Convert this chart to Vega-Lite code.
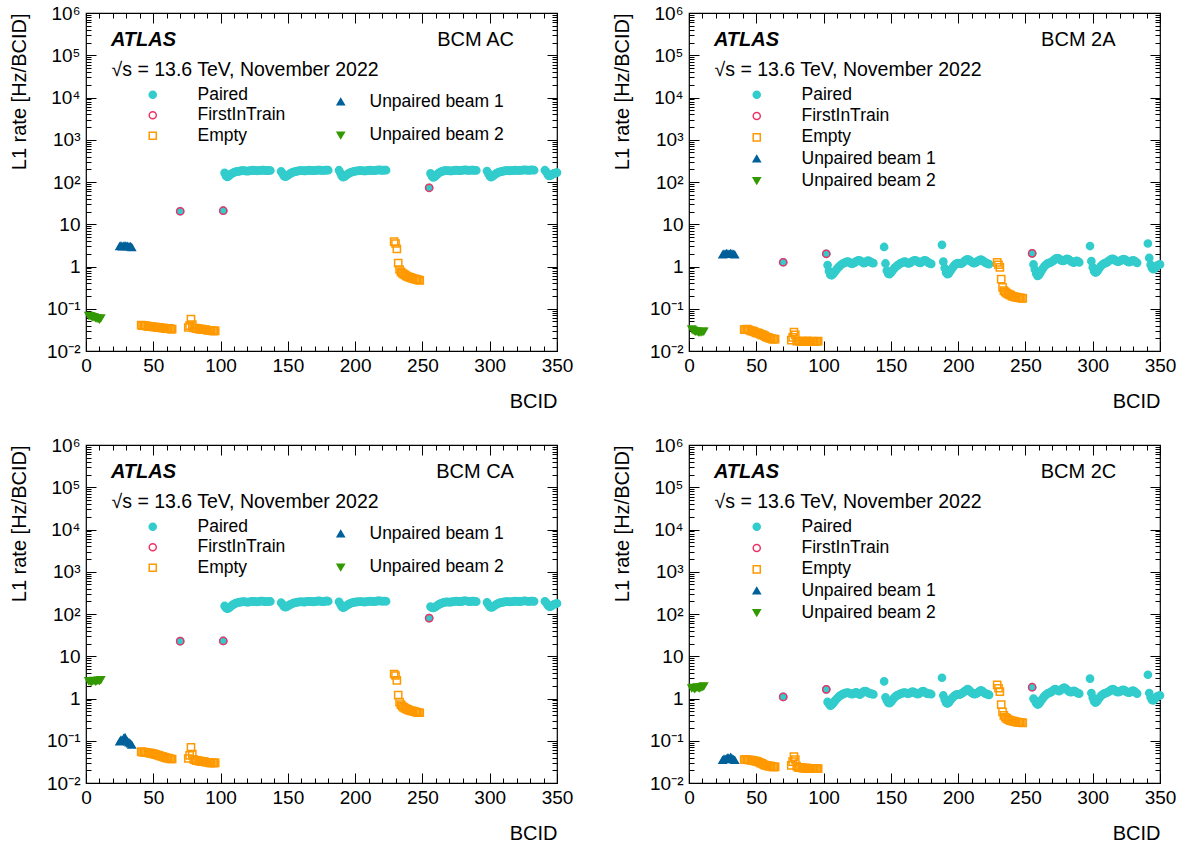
{
"$schema": "https://vega.github.io/schema/vega-lite/v6.json",
"background": "white",
"padding": {"left": 8, "top": 3, "right": 5, "bottom": 5},
"autosize": {"type": "pad"},
"columns": 2,
"spacing": {"row": 94, "column": 132},
"bounds": "flush",
"resolve": {"scale": {"stroke": "independent", "fill": "independent", "shape": "independent"}},
"config": {
  "font": "Liberation Sans",
  "view": {"stroke": "black", "strokeWidth": 1.2},
  "axis": {"domain": false, "grid": false, "tickColor": "black", "tickWidth": 1, "labelColor": "black", "labelFont": "Liberation Sans", "labelFontSize": 19, "titleFont": "Liberation Sans", "titleFontSize": 20, "titleFontWeight": "normal", "titleColor": "black", "labelFlush": false, "labelOverlap": false},
  "legend": {"labelFont": "Liberation Sans", "labelFontSize": 17.5, "labelColor": "black", "symbolStrokeWidth": 1.5, "symbolSize": 50, "padding": 0},
  "text": {"font": "Liberation Sans", "color": "black"}
},
"datasets": {
"ac": [
{"b":70,"t":"P","r":20.3},{"b":102,"t":"P","r":20.9},
{"b":103,"t":"P","r":165},{"b":104,"t":"P","r":140},{"b":105,"t":"P","r":132},{"b":106,"t":"P","r":138},{"b":107,"t":"P","r":148},{"b":108,"t":"P","r":156},{"b":109,"t":"P","r":163},{"b":110,"t":"P","r":168},{"b":111,"t":"P","r":173},{"b":112,"t":"P","r":176},{"b":113,"t":"P","r":179},{"b":114,"t":"P","r":181},{"b":115,"t":"P","r":183},{"b":116,"t":"P","r":185},{"b":117,"t":"P","r":186},{"b":118,"t":"P","r":184},{"b":119,"t":"P","r":182},{"b":120,"t":"P","r":180},{"b":121,"t":"P","r":182},{"b":122,"t":"P","r":185},{"b":123,"t":"P","r":188},{"b":124,"t":"P","r":190},{"b":125,"t":"P","r":188},{"b":126,"t":"P","r":186},{"b":127,"t":"P","r":184},{"b":128,"t":"P","r":185},{"b":129,"t":"P","r":187},{"b":130,"t":"P","r":189},{"b":131,"t":"P","r":191},{"b":132,"t":"P","r":190},{"b":133,"t":"P","r":188},{"b":134,"t":"P","r":186},{"b":135,"t":"P","r":187},{"b":136,"t":"P","r":189},{"b":137,"t":"P","r":187},
{"b":145,"t":"P","r":178},{"b":146,"t":"P","r":160},{"b":147,"t":"P","r":140},{"b":148,"t":"P","r":133},{"b":149,"t":"P","r":137},{"b":150,"t":"P","r":145},{"b":151,"t":"P","r":152},{"b":152,"t":"P","r":160},{"b":153,"t":"P","r":166},{"b":154,"t":"P","r":171},{"b":155,"t":"P","r":175},{"b":156,"t":"P","r":178},{"b":157,"t":"P","r":181},{"b":158,"t":"P","r":183},{"b":159,"t":"P","r":185},{"b":160,"t":"P","r":186},{"b":161,"t":"P","r":185},{"b":162,"t":"P","r":183},{"b":163,"t":"P","r":184},{"b":164,"t":"P","r":186},{"b":165,"t":"P","r":188},{"b":166,"t":"P","r":190},{"b":167,"t":"P","r":189},{"b":168,"t":"P","r":187},{"b":169,"t":"P","r":185},{"b":170,"t":"P","r":186},{"b":171,"t":"P","r":188},{"b":172,"t":"P","r":190},{"b":173,"t":"P","r":192},{"b":174,"t":"P","r":191},{"b":175,"t":"P","r":189},{"b":176,"t":"P","r":187},{"b":177,"t":"P","r":188},{"b":178,"t":"P","r":190},{"b":179,"t":"P","r":192},{"b":180,"t":"P","r":190},
{"b":188,"t":"P","r":190},{"b":189,"t":"P","r":165},{"b":190,"t":"P","r":140},{"b":191,"t":"P","r":130},{"b":192,"t":"P","r":134},{"b":193,"t":"P","r":142},{"b":194,"t":"P","r":150},{"b":195,"t":"P","r":158},{"b":196,"t":"P","r":165},{"b":197,"t":"P","r":170},{"b":198,"t":"P","r":174},{"b":199,"t":"P","r":177},{"b":200,"t":"P","r":180},{"b":201,"t":"P","r":182},{"b":202,"t":"P","r":184},{"b":203,"t":"P","r":185},{"b":204,"t":"P","r":186},{"b":205,"t":"P","r":185},{"b":206,"t":"P","r":183},{"b":207,"t":"P","r":182},{"b":208,"t":"P","r":184},{"b":209,"t":"P","r":186},{"b":210,"t":"P","r":188},{"b":211,"t":"P","r":190},{"b":212,"t":"P","r":189},{"b":213,"t":"P","r":187},{"b":214,"t":"P","r":186},{"b":215,"t":"P","r":188},{"b":216,"t":"P","r":190},{"b":217,"t":"P","r":192},{"b":218,"t":"P","r":193},{"b":219,"t":"P","r":191},{"b":220,"t":"P","r":189},{"b":221,"t":"P","r":190},{"b":222,"t":"P","r":192},{"b":223,"t":"P","r":190},
{"b":255,"t":"P","r":73},
{"b":256,"t":"P","r":160},{"b":257,"t":"P","r":138},{"b":258,"t":"P","r":128},{"b":259,"t":"P","r":132},{"b":260,"t":"P","r":142},{"b":261,"t":"P","r":152},{"b":262,"t":"P","r":162},{"b":263,"t":"P","r":170},{"b":264,"t":"P","r":176},{"b":265,"t":"P","r":180},{"b":266,"t":"P","r":183},{"b":267,"t":"P","r":185},{"b":268,"t":"P","r":186},{"b":269,"t":"P","r":185},{"b":270,"t":"P","r":183},{"b":271,"t":"P","r":182},{"b":272,"t":"P","r":184},{"b":273,"t":"P","r":187},{"b":274,"t":"P","r":189},{"b":275,"t":"P","r":190},{"b":276,"t":"P","r":189},{"b":277,"t":"P","r":187},{"b":278,"t":"P","r":186},{"b":279,"t":"P","r":188},{"b":280,"t":"P","r":190},{"b":281,"t":"P","r":192},{"b":282,"t":"P","r":193},{"b":283,"t":"P","r":191},{"b":284,"t":"P","r":189},{"b":285,"t":"P","r":188},{"b":286,"t":"P","r":190},{"b":287,"t":"P","r":192},{"b":288,"t":"P","r":191},{"b":289,"t":"P","r":189},{"b":290,"t":"P","r":188},
{"b":298,"t":"P","r":182},{"b":299,"t":"P","r":160},{"b":300,"t":"P","r":138},{"b":301,"t":"P","r":130},{"b":302,"t":"P","r":135},{"b":303,"t":"P","r":143},{"b":304,"t":"P","r":152},{"b":305,"t":"P","r":160},{"b":306,"t":"P","r":166},{"b":307,"t":"P","r":171},{"b":308,"t":"P","r":175},{"b":309,"t":"P","r":178},{"b":310,"t":"P","r":181},{"b":311,"t":"P","r":183},{"b":312,"t":"P","r":185},{"b":313,"t":"P","r":186},{"b":314,"t":"P","r":185},{"b":315,"t":"P","r":184},{"b":316,"t":"P","r":185},{"b":317,"t":"P","r":187},{"b":318,"t":"P","r":189},{"b":319,"t":"P","r":190},{"b":320,"t":"P","r":189},{"b":321,"t":"P","r":188},{"b":322,"t":"P","r":187},{"b":323,"t":"P","r":188},{"b":324,"t":"P","r":190},{"b":325,"t":"P","r":192},{"b":326,"t":"P","r":193},{"b":327,"t":"P","r":192},{"b":328,"t":"P","r":190},{"b":329,"t":"P","r":189},{"b":330,"t":"P","r":191},{"b":331,"t":"P","r":193},{"b":332,"t":"P","r":192},{"b":333,"t":"P","r":190},
{"b":341,"t":"P","r":190},{"b":342,"t":"P","r":175},{"b":343,"t":"P","r":152},{"b":344,"t":"P","r":140},{"b":345,"t":"P","r":142},{"b":346,"t":"P","r":148},{"b":347,"t":"P","r":155},{"b":348,"t":"P","r":160},{"b":349,"t":"P","r":164},{"b":350,"t":"P","r":167},
{"b":70,"t":"F","r":20.3},{"b":102,"t":"F","r":20.9},{"b":255,"t":"F","r":73},
{"b":41,"t":"E","r":0.041},{"b":42,"t":"E","r":0.04},{"b":43,"t":"E","r":0.04},{"b":44,"t":"E","r":0.04},{"b":45,"t":"E","r":0.039},{"b":46,"t":"E","r":0.039},{"b":47,"t":"E","r":0.038},{"b":48,"t":"E","r":0.038},{"b":49,"t":"E","r":0.038},{"b":50,"t":"E","r":0.037},{"b":51,"t":"E","r":0.037},{"b":52,"t":"E","r":0.037},{"b":53,"t":"E","r":0.036},{"b":54,"t":"E","r":0.036},{"b":55,"t":"E","r":0.036},{"b":56,"t":"E","r":0.035},{"b":57,"t":"E","r":0.035},{"b":58,"t":"E","r":0.035},{"b":59,"t":"E","r":0.034},{"b":60,"t":"E","r":0.034},{"b":61,"t":"E","r":0.034},{"b":62,"t":"E","r":0.034},{"b":63,"t":"E","r":0.033},{"b":64,"t":"E","r":0.033},
{"b":76,"t":"E","r":0.036},{"b":77,"t":"E","r":0.04},{"b":78,"t":"E","r":0.057},{"b":79,"t":"E","r":0.042},{"b":80,"t":"E","r":0.035},{"b":81,"t":"E","r":0.035},{"b":82,"t":"E","r":0.034},{"b":83,"t":"E","r":0.034},{"b":84,"t":"E","r":0.033},{"b":85,"t":"E","r":0.033},{"b":86,"t":"E","r":0.033},{"b":87,"t":"E","r":0.032},{"b":88,"t":"E","r":0.032},{"b":89,"t":"E","r":0.032},{"b":90,"t":"E","r":0.031},{"b":91,"t":"E","r":0.031},{"b":92,"t":"E","r":0.031},{"b":93,"t":"E","r":0.031},{"b":94,"t":"E","r":0.03},{"b":95,"t":"E","r":0.03},{"b":96,"t":"E","r":0.03},
{"b":229,"t":"E","r":3.9},{"b":230,"t":"E","r":3.5},{"b":231,"t":"E","r":2.6},{"b":232,"t":"E","r":1.2},{"b":233,"t":"E","r":0.85},{"b":234,"t":"E","r":0.75},{"b":235,"t":"E","r":0.7},{"b":236,"t":"E","r":0.66},{"b":237,"t":"E","r":0.63},{"b":238,"t":"E","r":0.6},{"b":239,"t":"E","r":0.58},{"b":240,"t":"E","r":0.56},{"b":241,"t":"E","r":0.55},{"b":242,"t":"E","r":0.53},{"b":243,"t":"E","r":0.52},{"b":244,"t":"E","r":0.51},{"b":245,"t":"E","r":0.5},{"b":246,"t":"E","r":0.49},{"b":247,"t":"E","r":0.48},{"b":248,"t":"E","r":0.47},
{"b":25,"t":"U1","r":3.0},{"b":26,"t":"U1","r":3.1},{"b":27,"t":"U1","r":2.95},{"b":28,"t":"U1","r":3.05},{"b":29,"t":"U1","r":3.1},{"b":30,"t":"U1","r":3.0},{"b":31,"t":"U1","r":3.05},{"b":32,"t":"U1","r":2.95},{"b":33,"t":"U1","r":3.0},{"b":34,"t":"U1","r":2.85},
{"b":2,"t":"U2","r":0.069},{"b":3,"t":"U2","r":0.068},{"b":4,"t":"U2","r":0.066},{"b":5,"t":"U2","r":0.064},{"b":6,"t":"U2","r":0.063},{"b":7,"t":"U2","r":0.061},{"b":8,"t":"U2","r":0.06},{"b":9,"t":"U2","r":0.058},{"b":10,"t":"U2","r":0.056},{"b":11,"t":"U2","r":0.06}
],
"a2": [
{"b":70,"t":"P","r":1.26},{"b":102,"t":"P","r":2.0},
{"b":103,"t":"P","r":1.08},{"b":104,"t":"P","r":0.78},{"b":105,"t":"P","r":0.64},{"b":106,"t":"P","r":0.62},{"b":107,"t":"P","r":0.66},{"b":108,"t":"P","r":0.72},{"b":109,"t":"P","r":0.8},{"b":110,"t":"P","r":0.88},{"b":111,"t":"P","r":0.95},{"b":112,"t":"P","r":1.02},{"b":113,"t":"P","r":1.1},{"b":114,"t":"P","r":1.16},{"b":115,"t":"P","r":1.2},{"b":116,"t":"P","r":1.24},{"b":117,"t":"P","r":1.28},{"b":118,"t":"P","r":1.3},{"b":119,"t":"P","r":1.27},{"b":120,"t":"P","r":1.2},{"b":121,"t":"P","r":1.16},{"b":122,"t":"P","r":1.18},{"b":123,"t":"P","r":1.24},{"b":124,"t":"P","r":1.3},{"b":125,"t":"P","r":1.36},{"b":126,"t":"P","r":1.4},{"b":127,"t":"P","r":1.38},{"b":128,"t":"P","r":1.32},{"b":129,"t":"P","r":1.25},{"b":130,"t":"P","r":1.2},{"b":131,"t":"P","r":1.24},{"b":132,"t":"P","r":1.32},{"b":133,"t":"P","r":1.38},{"b":134,"t":"P","r":1.35},{"b":135,"t":"P","r":1.28},{"b":136,"t":"P","r":1.22},{"b":137,"t":"P","r":1.2},
{"b":145,"t":"P","r":2.9},{"b":146,"t":"P","r":1.18},{"b":147,"t":"P","r":0.8},{"b":148,"t":"P","r":0.68},{"b":149,"t":"P","r":0.66},{"b":150,"t":"P","r":0.7},{"b":151,"t":"P","r":0.78},{"b":152,"t":"P","r":0.86},{"b":153,"t":"P","r":0.94},{"b":154,"t":"P","r":1.0},{"b":155,"t":"P","r":1.06},{"b":156,"t":"P","r":1.12},{"b":157,"t":"P","r":1.18},{"b":158,"t":"P","r":1.22},{"b":159,"t":"P","r":1.26},{"b":160,"t":"P","r":1.3},{"b":161,"t":"P","r":1.28},{"b":162,"t":"P","r":1.22},{"b":163,"t":"P","r":1.18},{"b":164,"t":"P","r":1.2},{"b":165,"t":"P","r":1.26},{"b":166,"t":"P","r":1.32},{"b":167,"t":"P","r":1.38},{"b":168,"t":"P","r":1.4},{"b":169,"t":"P","r":1.36},{"b":170,"t":"P","r":1.3},{"b":171,"t":"P","r":1.24},{"b":172,"t":"P","r":1.22},{"b":173,"t":"P","r":1.28},{"b":174,"t":"P","r":1.35},{"b":175,"t":"P","r":1.4},{"b":176,"t":"P","r":1.38},{"b":177,"t":"P","r":1.3},{"b":178,"t":"P","r":1.22},{"b":179,"t":"P","r":1.18},{"b":180,"t":"P","r":1.15},
{"b":188,"t":"P","r":3.25},{"b":189,"t":"P","r":1.3},{"b":190,"t":"P","r":0.92},{"b":191,"t":"P","r":0.72},{"b":192,"t":"P","r":0.66},{"b":193,"t":"P","r":0.68},{"b":194,"t":"P","r":0.76},{"b":195,"t":"P","r":0.85},{"b":196,"t":"P","r":0.95},{"b":197,"t":"P","r":1.05},{"b":198,"t":"P","r":1.12},{"b":199,"t":"P","r":1.18},{"b":200,"t":"P","r":1.2},{"b":201,"t":"P","r":1.18},{"b":202,"t":"P","r":1.16},{"b":203,"t":"P","r":1.2},{"b":204,"t":"P","r":1.28},{"b":205,"t":"P","r":1.36},{"b":206,"t":"P","r":1.44},{"b":207,"t":"P","r":1.48},{"b":208,"t":"P","r":1.44},{"b":209,"t":"P","r":1.36},{"b":210,"t":"P","r":1.28},{"b":211,"t":"P","r":1.22},{"b":212,"t":"P","r":1.2},{"b":213,"t":"P","r":1.24},{"b":214,"t":"P","r":1.3},{"b":215,"t":"P","r":1.36},{"b":216,"t":"P","r":1.42},{"b":217,"t":"P","r":1.45},{"b":218,"t":"P","r":1.4},{"b":219,"t":"P","r":1.32},{"b":220,"t":"P","r":1.25},{"b":221,"t":"P","r":1.2},{"b":222,"t":"P","r":1.16},{"b":223,"t":"P","r":1.14},
{"b":255,"t":"P","r":2.05},
{"b":256,"t":"P","r":1.12},{"b":257,"t":"P","r":0.85},{"b":258,"t":"P","r":0.68},{"b":259,"t":"P","r":0.6},{"b":260,"t":"P","r":0.62},{"b":261,"t":"P","r":0.7},{"b":262,"t":"P","r":0.8},{"b":263,"t":"P","r":0.9},{"b":264,"t":"P","r":1.0},{"b":265,"t":"P","r":1.08},{"b":266,"t":"P","r":1.15},{"b":267,"t":"P","r":1.2},{"b":268,"t":"P","r":1.22},{"b":269,"t":"P","r":1.26},{"b":270,"t":"P","r":1.32},{"b":271,"t":"P","r":1.4},{"b":272,"t":"P","r":1.5},{"b":273,"t":"P","r":1.56},{"b":274,"t":"P","r":1.58},{"b":275,"t":"P","r":1.52},{"b":276,"t":"P","r":1.44},{"b":277,"t":"P","r":1.38},{"b":278,"t":"P","r":1.35},{"b":279,"t":"P","r":1.4},{"b":280,"t":"P","r":1.48},{"b":281,"t":"P","r":1.52},{"b":282,"t":"P","r":1.48},{"b":283,"t":"P","r":1.4},{"b":284,"t":"P","r":1.32},{"b":285,"t":"P","r":1.26},{"b":286,"t":"P","r":1.24},{"b":287,"t":"P","r":1.3},{"b":288,"t":"P","r":1.36},{"b":289,"t":"P","r":1.32},{"b":290,"t":"P","r":1.25},
{"b":298,"t":"P","r":3.05},{"b":299,"t":"P","r":1.34},{"b":300,"t":"P","r":0.96},{"b":301,"t":"P","r":0.78},{"b":302,"t":"P","r":0.72},{"b":303,"t":"P","r":0.74},{"b":304,"t":"P","r":0.82},{"b":305,"t":"P","r":0.92},{"b":306,"t":"P","r":1.02},{"b":307,"t":"P","r":1.1},{"b":308,"t":"P","r":1.16},{"b":309,"t":"P","r":1.2},{"b":310,"t":"P","r":1.22},{"b":311,"t":"P","r":1.28},{"b":312,"t":"P","r":1.36},{"b":313,"t":"P","r":1.44},{"b":314,"t":"P","r":1.5},{"b":315,"t":"P","r":1.52},{"b":316,"t":"P","r":1.46},{"b":317,"t":"P","r":1.38},{"b":318,"t":"P","r":1.32},{"b":319,"t":"P","r":1.3},{"b":320,"t":"P","r":1.34},{"b":321,"t":"P","r":1.4},{"b":322,"t":"P","r":1.46},{"b":323,"t":"P","r":1.5},{"b":324,"t":"P","r":1.46},{"b":325,"t":"P","r":1.38},{"b":326,"t":"P","r":1.3},{"b":327,"t":"P","r":1.26},{"b":328,"t":"P","r":1.3},{"b":329,"t":"P","r":1.36},{"b":330,"t":"P","r":1.4},{"b":331,"t":"P","r":1.36},{"b":332,"t":"P","r":1.28},{"b":333,"t":"P","r":1.22},
{"b":341,"t":"P","r":3.5},{"b":342,"t":"P","r":1.6},{"b":343,"t":"P","r":1.1},{"b":344,"t":"P","r":0.92},{"b":345,"t":"P","r":0.86},{"b":346,"t":"P","r":0.9},{"b":347,"t":"P","r":0.98},{"b":348,"t":"P","r":1.05},{"b":349,"t":"P","r":1.1},{"b":350,"t":"P","r":1.12},
{"b":70,"t":"F","r":1.26},{"b":102,"t":"F","r":2.0},{"b":255,"t":"F","r":2.05},
{"b":41,"t":"E","r":0.032},{"b":42,"t":"E","r":0.032},{"b":43,"t":"E","r":0.033},{"b":44,"t":"E","r":0.032},{"b":45,"t":"E","r":0.031},{"b":46,"t":"E","r":0.03},{"b":47,"t":"E","r":0.03},{"b":48,"t":"E","r":0.029},{"b":49,"t":"E","r":0.028},{"b":50,"t":"E","r":0.027},{"b":51,"t":"E","r":0.027},{"b":52,"t":"E","r":0.026},{"b":53,"t":"E","r":0.025},{"b":54,"t":"E","r":0.024},{"b":55,"t":"E","r":0.024},{"b":56,"t":"E","r":0.023},{"b":57,"t":"E","r":0.022},{"b":58,"t":"E","r":0.021},{"b":59,"t":"E","r":0.021},{"b":60,"t":"E","r":0.02},{"b":61,"t":"E","r":0.02},{"b":62,"t":"E","r":0.019},{"b":63,"t":"E","r":0.019},{"b":64,"t":"E","r":0.019},
{"b":76,"t":"E","r":0.018},{"b":77,"t":"E","r":0.021},{"b":78,"t":"E","r":0.028},{"b":79,"t":"E","r":0.024},{"b":80,"t":"E","r":0.017},{"b":81,"t":"E","r":0.0175},{"b":82,"t":"E","r":0.017},{"b":83,"t":"E","r":0.0168},{"b":84,"t":"E","r":0.017},{"b":85,"t":"E","r":0.0172},{"b":86,"t":"E","r":0.0168},{"b":87,"t":"E","r":0.017},{"b":88,"t":"E","r":0.0173},{"b":89,"t":"E","r":0.017},{"b":90,"t":"E","r":0.0168},{"b":91,"t":"E","r":0.017},{"b":92,"t":"E","r":0.0172},{"b":93,"t":"E","r":0.017},{"b":94,"t":"E","r":0.0168},{"b":95,"t":"E","r":0.017},{"b":96,"t":"E","r":0.0172},
{"b":229,"t":"E","r":1.25},{"b":230,"t":"E","r":1.1},{"b":231,"t":"E","r":0.95},{"b":232,"t":"E","r":0.5},{"b":233,"t":"E","r":0.32},{"b":234,"t":"E","r":0.27},{"b":235,"t":"E","r":0.25},{"b":236,"t":"E","r":0.235},{"b":237,"t":"E","r":0.225},{"b":238,"t":"E","r":0.215},{"b":239,"t":"E","r":0.21},{"b":240,"t":"E","r":0.2},{"b":241,"t":"E","r":0.195},{"b":242,"t":"E","r":0.19},{"b":243,"t":"E","r":0.188},{"b":244,"t":"E","r":0.185},{"b":245,"t":"E","r":0.182},{"b":246,"t":"E","r":0.18},{"b":247,"t":"E","r":0.178},{"b":248,"t":"E","r":0.176},
{"b":25,"t":"U1","r":1.9},{"b":26,"t":"U1","r":2.0},{"b":27,"t":"U1","r":1.95},{"b":28,"t":"U1","r":2.05},{"b":29,"t":"U1","r":2.0},{"b":30,"t":"U1","r":1.95},{"b":31,"t":"U1","r":2.05},{"b":32,"t":"U1","r":2.0},{"b":33,"t":"U1","r":1.95},{"b":34,"t":"U1","r":1.9},
{"b":2,"t":"U2","r":0.033},{"b":3,"t":"U2","r":0.031},{"b":4,"t":"U2","r":0.03},{"b":5,"t":"U2","r":0.029},{"b":6,"t":"U2","r":0.029},{"b":7,"t":"U2","r":0.028},{"b":8,"t":"U2","r":0.028},{"b":9,"t":"U2","r":0.028},{"b":10,"t":"U2","r":0.029},{"b":11,"t":"U2","r":0.029}
],
"ca": [
{"b":70,"t":"P","r":22.8},{"b":102,"t":"P","r":23},
{"b":103,"t":"P","r":155},{"b":104,"t":"P","r":140},{"b":105,"t":"P","r":134},{"b":106,"t":"P","r":138},{"b":107,"t":"P","r":146},{"b":108,"t":"P","r":155},{"b":109,"t":"P","r":164},{"b":110,"t":"P","r":172},{"b":111,"t":"P","r":178},{"b":112,"t":"P","r":183},{"b":113,"t":"P","r":187},{"b":114,"t":"P","r":190},{"b":115,"t":"P","r":192},{"b":116,"t":"P","r":194},{"b":117,"t":"P","r":196},{"b":118,"t":"P","r":195},{"b":119,"t":"P","r":192},{"b":120,"t":"P","r":190},{"b":121,"t":"P","r":192},{"b":122,"t":"P","r":195},{"b":123,"t":"P","r":198},{"b":124,"t":"P","r":200},{"b":125,"t":"P","r":198},{"b":126,"t":"P","r":195},{"b":127,"t":"P","r":193},{"b":128,"t":"P","r":195},{"b":129,"t":"P","r":198},{"b":130,"t":"P","r":201},{"b":131,"t":"P","r":203},{"b":132,"t":"P","r":200},{"b":133,"t":"P","r":197},{"b":134,"t":"P","r":195},{"b":135,"t":"P","r":197},{"b":136,"t":"P","r":200},{"b":137,"t":"P","r":198},
{"b":145,"t":"P","r":185},{"b":146,"t":"P","r":170},{"b":147,"t":"P","r":152},{"b":148,"t":"P","r":145},{"b":149,"t":"P","r":148},{"b":150,"t":"P","r":155},{"b":151,"t":"P","r":162},{"b":152,"t":"P","r":169},{"b":153,"t":"P","r":175},{"b":154,"t":"P","r":180},{"b":155,"t":"P","r":184},{"b":156,"t":"P","r":187},{"b":157,"t":"P","r":190},{"b":158,"t":"P","r":192},{"b":159,"t":"P","r":194},{"b":160,"t":"P","r":195},{"b":161,"t":"P","r":193},{"b":162,"t":"P","r":191},{"b":163,"t":"P","r":193},{"b":164,"t":"P","r":196},{"b":165,"t":"P","r":198},{"b":166,"t":"P","r":200},{"b":167,"t":"P","r":199},{"b":168,"t":"P","r":196},{"b":169,"t":"P","r":194},{"b":170,"t":"P","r":196},{"b":171,"t":"P","r":199},{"b":172,"t":"P","r":202},{"b":173,"t":"P","r":204},{"b":174,"t":"P","r":202},{"b":175,"t":"P","r":199},{"b":176,"t":"P","r":197},{"b":177,"t":"P","r":199},{"b":178,"t":"P","r":202},{"b":179,"t":"P","r":204},{"b":180,"t":"P","r":200},
{"b":188,"t":"P","r":195},{"b":189,"t":"P","r":172},{"b":190,"t":"P","r":150},{"b":191,"t":"P","r":142},{"b":192,"t":"P","r":146},{"b":193,"t":"P","r":153},{"b":194,"t":"P","r":161},{"b":195,"t":"P","r":169},{"b":196,"t":"P","r":176},{"b":197,"t":"P","r":181},{"b":198,"t":"P","r":185},{"b":199,"t":"P","r":188},{"b":200,"t":"P","r":191},{"b":201,"t":"P","r":193},{"b":202,"t":"P","r":194},{"b":203,"t":"P","r":195},{"b":204,"t":"P","r":196},{"b":205,"t":"P","r":195},{"b":206,"t":"P","r":193},{"b":207,"t":"P","r":192},{"b":208,"t":"P","r":194},{"b":209,"t":"P","r":197},{"b":210,"t":"P","r":199},{"b":211,"t":"P","r":201},{"b":212,"t":"P","r":200},{"b":213,"t":"P","r":198},{"b":214,"t":"P","r":197},{"b":215,"t":"P","r":199},{"b":216,"t":"P","r":202},{"b":217,"t":"P","r":204},{"b":218,"t":"P","r":205},{"b":219,"t":"P","r":203},{"b":220,"t":"P","r":200},{"b":221,"t":"P","r":201},{"b":222,"t":"P","r":203},{"b":223,"t":"P","r":200},
{"b":255,"t":"P","r":80},
{"b":256,"t":"P","r":150},{"b":257,"t":"P","r":142},{"b":258,"t":"P","r":140},{"b":259,"t":"P","r":144},{"b":260,"t":"P","r":150},{"b":261,"t":"P","r":158},{"b":262,"t":"P","r":166},{"b":263,"t":"P","r":173},{"b":264,"t":"P","r":179},{"b":265,"t":"P","r":184},{"b":266,"t":"P","r":188},{"b":267,"t":"P","r":191},{"b":268,"t":"P","r":193},{"b":269,"t":"P","r":192},{"b":270,"t":"P","r":190},{"b":271,"t":"P","r":191},{"b":272,"t":"P","r":194},{"b":273,"t":"P","r":197},{"b":274,"t":"P","r":200},{"b":275,"t":"P","r":202},{"b":276,"t":"P","r":200},{"b":277,"t":"P","r":197},{"b":278,"t":"P","r":196},{"b":279,"t":"P","r":199},{"b":280,"t":"P","r":202},{"b":281,"t":"P","r":205},{"b":282,"t":"P","r":206},{"b":283,"t":"P","r":203},{"b":284,"t":"P","r":199},{"b":285,"t":"P","r":197},{"b":286,"t":"P","r":199},{"b":287,"t":"P","r":202},{"b":288,"t":"P","r":201},{"b":289,"t":"P","r":198},{"b":290,"t":"P","r":196},
{"b":298,"t":"P","r":188},{"b":299,"t":"P","r":168},{"b":300,"t":"P","r":150},{"b":301,"t":"P","r":143},{"b":302,"t":"P","r":146},{"b":303,"t":"P","r":153},{"b":304,"t":"P","r":161},{"b":305,"t":"P","r":169},{"b":306,"t":"P","r":176},{"b":307,"t":"P","r":181},{"b":308,"t":"P","r":185},{"b":309,"t":"P","r":188},{"b":310,"t":"P","r":191},{"b":311,"t":"P","r":193},{"b":312,"t":"P","r":195},{"b":313,"t":"P","r":196},{"b":314,"t":"P","r":195},{"b":315,"t":"P","r":194},{"b":316,"t":"P","r":195},{"b":317,"t":"P","r":197},{"b":318,"t":"P","r":199},{"b":319,"t":"P","r":201},{"b":320,"t":"P","r":200},{"b":321,"t":"P","r":198},{"b":322,"t":"P","r":197},{"b":323,"t":"P","r":198},{"b":324,"t":"P","r":200},{"b":325,"t":"P","r":203},{"b":326,"t":"P","r":204},{"b":327,"t":"P","r":203},{"b":328,"t":"P","r":200},{"b":329,"t":"P","r":198},{"b":330,"t":"P","r":200},{"b":331,"t":"P","r":203},{"b":332,"t":"P","r":202},{"b":333,"t":"P","r":199},
{"b":341,"t":"P","r":200},{"b":342,"t":"P","r":185},{"b":343,"t":"P","r":165},{"b":344,"t":"P","r":152},{"b":345,"t":"P","r":150},{"b":346,"t":"P","r":156},{"b":347,"t":"P","r":163},{"b":348,"t":"P","r":170},{"b":349,"t":"P","r":175},{"b":350,"t":"P","r":178},
{"b":70,"t":"F","r":22.8},{"b":102,"t":"F","r":23},{"b":255,"t":"F","r":80},
{"b":41,"t":"E","r":0.055},{"b":42,"t":"E","r":0.054},{"b":43,"t":"E","r":0.054},{"b":44,"t":"E","r":0.053},{"b":45,"t":"E","r":0.053},{"b":46,"t":"E","r":0.052},{"b":47,"t":"E","r":0.051},{"b":48,"t":"E","r":0.051},{"b":49,"t":"E","r":0.05},{"b":50,"t":"E","r":0.049},{"b":51,"t":"E","r":0.048},{"b":52,"t":"E","r":0.047},{"b":53,"t":"E","r":0.046},{"b":54,"t":"E","r":0.045},{"b":55,"t":"E","r":0.044},{"b":56,"t":"E","r":0.043},{"b":57,"t":"E","r":0.042},{"b":58,"t":"E","r":0.041},{"b":59,"t":"E","r":0.04},{"b":60,"t":"E","r":0.039},{"b":61,"t":"E","r":0.039},{"b":62,"t":"E","r":0.038},{"b":63,"t":"E","r":0.037},{"b":64,"t":"E","r":0.037},
{"b":76,"t":"E","r":0.038},{"b":77,"t":"E","r":0.045},{"b":78,"t":"E","r":0.07},{"b":79,"t":"E","r":0.048},{"b":80,"t":"E","r":0.036},{"b":81,"t":"E","r":0.035},{"b":82,"t":"E","r":0.034},{"b":83,"t":"E","r":0.034},{"b":84,"t":"E","r":0.033},{"b":85,"t":"E","r":0.033},{"b":86,"t":"E","r":0.032},{"b":87,"t":"E","r":0.032},{"b":88,"t":"E","r":0.032},{"b":89,"t":"E","r":0.031},{"b":90,"t":"E","r":0.031},{"b":91,"t":"E","r":0.031},{"b":92,"t":"E","r":0.03},{"b":93,"t":"E","r":0.03},{"b":94,"t":"E","r":0.03},{"b":95,"t":"E","r":0.03},{"b":96,"t":"E","r":0.03},
{"b":229,"t":"E","r":3.8},{"b":230,"t":"E","r":3.5},{"b":231,"t":"E","r":2.7},{"b":232,"t":"E","r":1.2},{"b":233,"t":"E","r":0.82},{"b":234,"t":"E","r":0.72},{"b":235,"t":"E","r":0.66},{"b":236,"t":"E","r":0.62},{"b":237,"t":"E","r":0.59},{"b":238,"t":"E","r":0.57},{"b":239,"t":"E","r":0.55},{"b":240,"t":"E","r":0.53},{"b":241,"t":"E","r":0.52},{"b":242,"t":"E","r":0.51},{"b":243,"t":"E","r":0.5},{"b":244,"t":"E","r":0.49},{"b":245,"t":"E","r":0.48},{"b":246,"t":"E","r":0.47},{"b":247,"t":"E","r":0.46},{"b":248,"t":"E","r":0.46},
{"b":25,"t":"U1","r":0.095},{"b":26,"t":"U1","r":0.105},{"b":27,"t":"U1","r":0.1},{"b":28,"t":"U1","r":0.115},{"b":29,"t":"U1","r":0.12},{"b":30,"t":"U1","r":0.1},{"b":31,"t":"U1","r":0.095},{"b":32,"t":"U1","r":0.09},{"b":33,"t":"U1","r":0.085},{"b":34,"t":"U1","r":0.08},
{"b":2,"t":"U2","r":2.6},{"b":3,"t":"U2","r":2.55},{"b":4,"t":"U2","r":2.5},{"b":5,"t":"U2","r":2.6},{"b":6,"t":"U2","r":2.65},{"b":7,"t":"U2","r":2.55},{"b":8,"t":"U2","r":2.6},{"b":9,"t":"U2","r":2.7},{"b":10,"t":"U2","r":2.65},{"b":11,"t":"U2","r":2.75}
],
"c2": [
{"b":70,"t":"P","r":1.09},{"b":102,"t":"P","r":1.65},
{"b":103,"t":"P","r":0.83},{"b":104,"t":"P","r":0.74},{"b":105,"t":"P","r":0.68},{"b":106,"t":"P","r":0.7},{"b":107,"t":"P","r":0.76},{"b":108,"t":"P","r":0.84},{"b":109,"t":"P","r":0.92},{"b":110,"t":"P","r":1.0},{"b":111,"t":"P","r":1.08},{"b":112,"t":"P","r":1.15},{"b":113,"t":"P","r":1.2},{"b":114,"t":"P","r":1.25},{"b":115,"t":"P","r":1.3},{"b":116,"t":"P","r":1.34},{"b":117,"t":"P","r":1.36},{"b":118,"t":"P","r":1.38},{"b":119,"t":"P","r":1.35},{"b":120,"t":"P","r":1.3},{"b":121,"t":"P","r":1.26},{"b":122,"t":"P","r":1.28},{"b":123,"t":"P","r":1.34},{"b":124,"t":"P","r":1.4},{"b":125,"t":"P","r":1.36},{"b":126,"t":"P","r":1.28},{"b":127,"t":"P","r":1.24},{"b":128,"t":"P","r":1.3},{"b":129,"t":"P","r":1.4},{"b":130,"t":"P","r":1.48},{"b":131,"t":"P","r":1.5},{"b":132,"t":"P","r":1.45},{"b":133,"t":"P","r":1.38},{"b":134,"t":"P","r":1.32},{"b":135,"t":"P","r":1.3},{"b":136,"t":"P","r":1.28},{"b":137,"t":"P","r":1.25},
{"b":145,"t":"P","r":2.55},{"b":146,"t":"P","r":1.07},{"b":147,"t":"P","r":0.9},{"b":148,"t":"P","r":0.8},{"b":149,"t":"P","r":0.78},{"b":150,"t":"P","r":0.82},{"b":151,"t":"P","r":0.9},{"b":152,"t":"P","r":1.0},{"b":153,"t":"P","r":1.08},{"b":154,"t":"P","r":1.15},{"b":155,"t":"P","r":1.2},{"b":156,"t":"P","r":1.24},{"b":157,"t":"P","r":1.28},{"b":158,"t":"P","r":1.32},{"b":159,"t":"P","r":1.36},{"b":160,"t":"P","r":1.38},{"b":161,"t":"P","r":1.36},{"b":162,"t":"P","r":1.32},{"b":163,"t":"P","r":1.3},{"b":164,"t":"P","r":1.34},{"b":165,"t":"P","r":1.4},{"b":166,"t":"P","r":1.45},{"b":167,"t":"P","r":1.42},{"b":168,"t":"P","r":1.36},{"b":169,"t":"P","r":1.3},{"b":170,"t":"P","r":1.26},{"b":171,"t":"P","r":1.3},{"b":172,"t":"P","r":1.38},{"b":173,"t":"P","r":1.46},{"b":174,"t":"P","r":1.5},{"b":175,"t":"P","r":1.44},{"b":176,"t":"P","r":1.36},{"b":177,"t":"P","r":1.3},{"b":178,"t":"P","r":1.28},{"b":179,"t":"P","r":1.3},{"b":180,"t":"P","r":1.26},
{"b":188,"t":"P","r":3.1},{"b":189,"t":"P","r":1.18},{"b":190,"t":"P","r":0.95},{"b":191,"t":"P","r":0.8},{"b":192,"t":"P","r":0.76},{"b":193,"t":"P","r":0.8},{"b":194,"t":"P","r":0.88},{"b":195,"t":"P","r":0.98},{"b":196,"t":"P","r":1.06},{"b":197,"t":"P","r":1.14},{"b":198,"t":"P","r":1.2},{"b":199,"t":"P","r":1.25},{"b":200,"t":"P","r":1.26},{"b":201,"t":"P","r":1.24},{"b":202,"t":"P","r":1.28},{"b":203,"t":"P","r":1.34},{"b":204,"t":"P","r":1.42},{"b":205,"t":"P","r":1.5},{"b":206,"t":"P","r":1.58},{"b":207,"t":"P","r":1.66},{"b":208,"t":"P","r":1.6},{"b":209,"t":"P","r":1.48},{"b":210,"t":"P","r":1.38},{"b":211,"t":"P","r":1.3},{"b":212,"t":"P","r":1.26},{"b":213,"t":"P","r":1.28},{"b":214,"t":"P","r":1.34},{"b":215,"t":"P","r":1.42},{"b":216,"t":"P","r":1.5},{"b":217,"t":"P","r":1.56},{"b":218,"t":"P","r":1.5},{"b":219,"t":"P","r":1.4},{"b":220,"t":"P","r":1.32},{"b":221,"t":"P","r":1.28},{"b":222,"t":"P","r":1.25},{"b":223,"t":"P","r":1.22},
{"b":255,"t":"P","r":1.85},
{"b":256,"t":"P","r":1.0},{"b":257,"t":"P","r":0.9},{"b":258,"t":"P","r":0.78},{"b":259,"t":"P","r":0.72},{"b":260,"t":"P","r":0.74},{"b":261,"t":"P","r":0.82},{"b":262,"t":"P","r":0.92},{"b":263,"t":"P","r":1.02},{"b":264,"t":"P","r":1.12},{"b":265,"t":"P","r":1.2},{"b":266,"t":"P","r":1.28},{"b":267,"t":"P","r":1.34},{"b":268,"t":"P","r":1.38},{"b":269,"t":"P","r":1.42},{"b":270,"t":"P","r":1.5},{"b":271,"t":"P","r":1.6},{"b":272,"t":"P","r":1.66},{"b":273,"t":"P","r":1.62},{"b":274,"t":"P","r":1.55},{"b":275,"t":"P","r":1.5},{"b":276,"t":"P","r":1.56},{"b":277,"t":"P","r":1.66},{"b":278,"t":"P","r":1.76},{"b":279,"t":"P","r":1.8},{"b":280,"t":"P","r":1.72},{"b":281,"t":"P","r":1.6},{"b":282,"t":"P","r":1.5},{"b":283,"t":"P","r":1.44},{"b":284,"t":"P","r":1.42},{"b":285,"t":"P","r":1.46},{"b":286,"t":"P","r":1.52},{"b":287,"t":"P","r":1.48},{"b":288,"t":"P","r":1.4},{"b":289,"t":"P","r":1.34},{"b":290,"t":"P","r":1.3},
{"b":298,"t":"P","r":2.95},{"b":299,"t":"P","r":1.35},{"b":300,"t":"P","r":1.05},{"b":301,"t":"P","r":0.86},{"b":302,"t":"P","r":0.8},{"b":303,"t":"P","r":0.84},{"b":304,"t":"P","r":0.94},{"b":305,"t":"P","r":1.04},{"b":306,"t":"P","r":1.14},{"b":307,"t":"P","r":1.22},{"b":308,"t":"P","r":1.28},{"b":309,"t":"P","r":1.32},{"b":310,"t":"P","r":1.36},{"b":311,"t":"P","r":1.4},{"b":312,"t":"P","r":1.46},{"b":313,"t":"P","r":1.54},{"b":314,"t":"P","r":1.62},{"b":315,"t":"P","r":1.66},{"b":316,"t":"P","r":1.6},{"b":317,"t":"P","r":1.5},{"b":318,"t":"P","r":1.44},{"b":319,"t":"P","r":1.42},{"b":320,"t":"P","r":1.46},{"b":321,"t":"P","r":1.52},{"b":322,"t":"P","r":1.58},{"b":323,"t":"P","r":1.6},{"b":324,"t":"P","r":1.54},{"b":325,"t":"P","r":1.46},{"b":326,"t":"P","r":1.4},{"b":327,"t":"P","r":1.38},{"b":328,"t":"P","r":1.42},{"b":329,"t":"P","r":1.5},{"b":330,"t":"P","r":1.54},{"b":331,"t":"P","r":1.48},{"b":332,"t":"P","r":1.38},{"b":333,"t":"P","r":1.3},
{"b":341,"t":"P","r":3.65},{"b":342,"t":"P","r":1.35},{"b":343,"t":"P","r":1.07},{"b":344,"t":"P","r":0.93},{"b":345,"t":"P","r":0.9},{"b":346,"t":"P","r":0.96},{"b":347,"t":"P","r":1.05},{"b":348,"t":"P","r":1.12},{"b":349,"t":"P","r":1.15},{"b":350,"t":"P","r":1.18},
{"b":70,"t":"F","r":1.09},{"b":102,"t":"F","r":1.65},{"b":255,"t":"F","r":1.85},
{"b":41,"t":"E","r":0.036},{"b":42,"t":"E","r":0.036},{"b":43,"t":"E","r":0.036},{"b":44,"t":"E","r":0.035},{"b":45,"t":"E","r":0.035},{"b":46,"t":"E","r":0.035},{"b":47,"t":"E","r":0.034},{"b":48,"t":"E","r":0.034},{"b":49,"t":"E","r":0.033},{"b":50,"t":"E","r":0.033},{"b":51,"t":"E","r":0.032},{"b":52,"t":"E","r":0.031},{"b":53,"t":"E","r":0.03},{"b":54,"t":"E","r":0.029},{"b":55,"t":"E","r":0.028},{"b":56,"t":"E","r":0.027},{"b":57,"t":"E","r":0.026},{"b":58,"t":"E","r":0.026},{"b":59,"t":"E","r":0.025},{"b":60,"t":"E","r":0.025},{"b":61,"t":"E","r":0.025},{"b":62,"t":"E","r":0.024},{"b":63,"t":"E","r":0.024},{"b":64,"t":"E","r":0.024},
{"b":76,"t":"E","r":0.026},{"b":77,"t":"E","r":0.032},{"b":78,"t":"E","r":0.042},{"b":79,"t":"E","r":0.036},{"b":80,"t":"E","r":0.025},{"b":81,"t":"E","r":0.0235},{"b":82,"t":"E","r":0.023},{"b":83,"t":"E","r":0.023},{"b":84,"t":"E","r":0.0228},{"b":85,"t":"E","r":0.0226},{"b":86,"t":"E","r":0.0225},{"b":87,"t":"E","r":0.0225},{"b":88,"t":"E","r":0.0224},{"b":89,"t":"E","r":0.0223},{"b":90,"t":"E","r":0.0222},{"b":91,"t":"E","r":0.0222},{"b":92,"t":"E","r":0.022},{"b":93,"t":"E","r":0.022},{"b":94,"t":"E","r":0.022},{"b":95,"t":"E","r":0.022},{"b":96,"t":"E","r":0.022},
{"b":229,"t":"E","r":2.1},{"b":230,"t":"E","r":1.75},{"b":231,"t":"E","r":1.45},{"b":232,"t":"E","r":0.72},{"b":233,"t":"E","r":0.48},{"b":234,"t":"E","r":0.4},{"b":235,"t":"E","r":0.36},{"b":236,"t":"E","r":0.34},{"b":237,"t":"E","r":0.32},{"b":238,"t":"E","r":0.31},{"b":239,"t":"E","r":0.3},{"b":240,"t":"E","r":0.295},{"b":241,"t":"E","r":0.29},{"b":242,"t":"E","r":0.285},{"b":243,"t":"E","r":0.28},{"b":244,"t":"E","r":0.277},{"b":245,"t":"E","r":0.274},{"b":246,"t":"E","r":0.27},{"b":247,"t":"E","r":0.268},{"b":248,"t":"E","r":0.265},
{"b":25,"t":"U1","r":0.035},{"b":26,"t":"U1","r":0.037},{"b":27,"t":"U1","r":0.036},{"b":28,"t":"U1","r":0.038},{"b":29,"t":"U1","r":0.04},{"b":30,"t":"U1","r":0.037},{"b":31,"t":"U1","r":0.041},{"b":32,"t":"U1","r":0.038},{"b":33,"t":"U1","r":0.036},{"b":34,"t":"U1","r":0.035},
{"b":2,"t":"U2","r":1.75},{"b":3,"t":"U2","r":1.8},{"b":4,"t":"U2","r":1.7},{"b":5,"t":"U2","r":1.75},{"b":6,"t":"U2","r":1.85},{"b":7,"t":"U2","r":1.8},{"b":8,"t":"U2","r":1.75},{"b":9,"t":"U2","r":1.85},{"b":10,"t":"U2","r":1.9},{"b":11,"t":"U2","r":1.95}
]
},
"concat": [
{
 "width": 471, "height": 338,
 "layer": [
  {"data": {"name": "ac"}, "transform": [{"filter": "datum.t == 'P' || datum.t == 'F' || datum.t == 'E'"}],
   "mark": {"type": "point", "filled": false, "size": 52, "strokeWidth": 1.5, "opacity": 1},
   "encoding": {
    "x": {"field": "b", "type": "quantitative", "scale": {"domain": [0, 350], "nice": false, "zero": false}, "axis": {"orient": "bottom", "values": [0,50,100,150,200,250,300,350], "tickSize": -10, "labelPadding": 15, "title": "BCID", "titleAnchor": "end", "titlePadding": 16}},
    "y": {"field": "r", "type": "quantitative", "scale": {"type": "log", "domain": [0.01, 1000000], "nice": false}, "axis": {"orient": "left", "values": [0.01,0.1,1,10,100,1000,10000,100000,1000000], "tickSize": -10, "labelPadding": 16, "labelExpr": "datum.value < 0.05 ? '10⁻²' : datum.value < 0.5 ? '10⁻¹' : datum.value < 5 ? '1' : datum.value < 50 ? '10' : datum.value < 500 ? '10²' : datum.value < 5000 ? '10³' : datum.value < 50000 ? '10⁴' : datum.value < 500000 ? '10⁵' : '10⁶'", "title": "L1 rate [Hz/BCID]", "titleAnchor": "end", "titlePadding": 17}},
    "stroke": {"field": "t", "type": "nominal", "scale": {"domain": ["P","F","E"], "range": ["#33CCCC","#EE3366","#FF9900"]}, "legend": {"orient": "none", "legendX": 58, "legendY": 73, "title": null, "labelOffset": 36, "rowPadding": 1.5, "labelExpr": "datum.label == 'P' ? 'Paired' : datum.label == 'F' ? 'FirstInTrain' : 'Empty'"}},
    "fill": {"field": "t", "type": "nominal", "scale": {"domain": ["P","F","E"], "range": ["#33CCCC","transparent","transparent"]}, "legend": {"orient": "none", "legendX": 58, "legendY": 73, "title": null, "labelOffset": 36, "rowPadding": 1.5, "labelExpr": "datum.label == 'P' ? 'Paired' : datum.label == 'F' ? 'FirstInTrain' : 'Empty'"}},
    "shape": {"field": "t", "type": "nominal", "scale": {"domain": ["P","F","E"], "range": ["circle","circle","square"]}, "legend": {"orient": "none", "legendX": 58, "legendY": 73, "title": null, "labelOffset": 36, "rowPadding": 1.5, "labelExpr": "datum.label == 'P' ? 'Paired' : datum.label == 'F' ? 'FirstInTrain' : 'Empty'"}}
   }},
  {"data": {"name": "ac"}, "transform": [{"filter": "datum.t == 'U1' || datum.t == 'U2'"}],
   "mark": {"type": "point", "filled": false, "size": 52, "strokeWidth": 1.5, "opacity": 1},
   "encoding": {
    "x": {"field": "b", "type": "quantitative", "scale": {"domain": [0, 350], "nice": false, "zero": false}, "axis": {"orient": "bottom", "values": [10,20,30,40,60,70,80,90,110,120,130,140,160,170,180,190,210,220,230,240,260,270,280,290,310,320,330,340], "tickSize": -5, "labels": false, "title": null}},
    "y": {"field": "r", "type": "quantitative", "scale": {"type": "log", "domain": [0.01, 1000000], "nice": false}, "axis": {"orient": "left", "values": [0.02,0.03,0.04,0.05,0.06,0.07,0.08,0.09,0.2,0.3,0.4,0.5,0.6,0.7,0.8,0.9,2,3,4,5,6,7,8,9,20,30,40,50,60,70,80,90,200,300,400,500,600,700,800,900,2000,3000,4000,5000,6000,7000,8000,9000,20000,30000,40000,50000,60000,70000,80000,90000,200000,300000,400000,500000,600000,700000,800000,900000], "tickSize": -5, "labels": false, "title": null}},
    "stroke": {"field": "t", "type": "nominal", "scale": {"domain": ["U1","U2"], "range": ["#00609A","#339900"]}, "legend": {"orient": "none", "legendX": 246, "legendY": 80, "title": null, "labelOffset": 20, "rowPadding": 14.5, "labelExpr": "datum.label == 'U1' ? 'Unpaired beam 1' : 'Unpaired beam 2'"}},
    "fill": {"field": "t", "type": "nominal", "scale": {"domain": ["U1","U2"], "range": ["#00609A","#339900"]}, "legend": {"orient": "none", "legendX": 246, "legendY": 80, "title": null, "labelOffset": 20, "rowPadding": 14.5, "labelExpr": "datum.label == 'U1' ? 'Unpaired beam 1' : 'Unpaired beam 2'"}},
    "shape": {"field": "t", "type": "nominal", "scale": {"domain": ["U1","U2"], "range": ["triangle-up","triangle-down"]}, "legend": {"orient": "none", "legendX": 246, "legendY": 80, "title": null, "labelOffset": 20, "rowPadding": 14.5, "labelExpr": "datum.label == 'U1' ? 'Unpaired beam 1' : 'Unpaired beam 2'"}}
   }},
  {"data": {"values": [{"txt": "ATLAS"}]},
   "mark": {"type": "text", "align": "left", "baseline": "alphabetic", "fontSize": 20, "fontWeight": "bold", "fontStyle": "italic"},
   "encoding": {
    "x": {"datum": 18.5, "type": "quantitative", "scale": {"domain": [0, 350], "nice": false, "zero": false}, "axis": {"orient": "top", "values": [0,50,100,150,200,250,300,350], "tickSize": -10, "labels": false, "title": null}},
    "y": {"datum": 166000, "type": "quantitative", "scale": {"type": "log", "domain": [0.01, 1000000], "nice": false}, "axis": {"orient": "right", "values": [0.01,0.1,1,10,100,1000,10000,100000,1000000], "tickSize": -10, "labels": false, "title": null}},
    "text": {"field": "txt"}}},
  {"data": {"values": [{"txt": "BCM AC"}]},
   "mark": {"type": "text", "align": "right", "baseline": "alphabetic", "fontSize": 20},
   "encoding": {
    "x": {"datum": 318, "type": "quantitative", "scale": {"domain": [0, 350], "nice": false, "zero": false}, "axis": {"orient": "top", "values": [10,20,30,40,60,70,80,90,110,120,130,140,160,170,180,190,210,220,230,240,260,270,280,290,310,320,330,340], "tickSize": -5, "labels": false, "title": null}},
    "y": {"datum": 166000, "type": "quantitative", "scale": {"type": "log", "domain": [0.01, 1000000], "nice": false}, "axis": {"orient": "right", "values": [0.02,0.03,0.04,0.05,0.06,0.07,0.08,0.09,0.2,0.3,0.4,0.5,0.6,0.7,0.8,0.9,2,3,4,5,6,7,8,9,20,30,40,50,60,70,80,90,200,300,400,500,600,700,800,900,2000,3000,4000,5000,6000,7000,8000,9000,20000,30000,40000,50000,60000,70000,80000,90000,200000,300000,400000,500000,600000,700000,800000,900000], "tickSize": -5, "labels": false, "title": null}},
    "text": {"field": "txt"}}},
  {"data": {"values": [{"txt": "√s = 13.6 TeV, November 2022"}]},
   "mark": {"type": "text", "align": "left", "baseline": "alphabetic", "fontSize": 19.5},
   "encoding": {
    "x": {"datum": 19, "type": "quantitative", "scale": {"domain": [0, 350], "nice": false, "zero": false}, "axis": null},
    "y": {"datum": 32300, "type": "quantitative", "scale": {"type": "log", "domain": [0.01, 1000000], "nice": false}, "axis": null},
    "text": {"field": "txt"}}}
 ],
 "resolve": {"scale": {"stroke": "independent", "fill": "independent", "shape": "independent"}, "axis": {"x": "independent", "y": "independent"}}
},
{
 "width": 471, "height": 338,
 "layer": [
  {"data": {"name": "a2"}, "transform": [{"filter": "datum.t == 'P' || datum.t == 'F' || datum.t == 'E'"}],
   "mark": {"type": "point", "filled": false, "size": 52, "strokeWidth": 1.5, "opacity": 1},
   "encoding": {
    "x": {"field": "b", "type": "quantitative", "scale": {"domain": [0, 350], "nice": false, "zero": false}, "axis": {"orient": "bottom", "values": [0,50,100,150,200,250,300,350], "tickSize": -10, "labelPadding": 15, "title": "BCID", "titleAnchor": "end", "titlePadding": 16}},
    "y": {"field": "r", "type": "quantitative", "scale": {"type": "log", "domain": [0.01, 1000000], "nice": false}, "axis": {"orient": "left", "values": [0.01,0.1,1,10,100,1000,10000,100000,1000000], "tickSize": -10, "labelPadding": 16, "labelExpr": "datum.value < 0.05 ? '10⁻²' : datum.value < 0.5 ? '10⁻¹' : datum.value < 5 ? '1' : datum.value < 50 ? '10' : datum.value < 500 ? '10²' : datum.value < 5000 ? '10³' : datum.value < 50000 ? '10⁴' : datum.value < 500000 ? '10⁵' : '10⁶'", "title": "L1 rate [Hz/BCID]", "titleAnchor": "end", "titlePadding": 17}},
    "stroke": {"field": "t", "type": "nominal", "scale": {"domain": ["P","F","E"], "range": ["#33CCCC","#EE3366","#FF9900"]}, "legend": {"orient": "none", "legendX": 59, "legendY": 73, "title": null, "labelOffset": 36, "rowPadding": 2.3, "labelExpr": "datum.label == 'P' ? 'Paired' : datum.label == 'F' ? 'FirstInTrain' : 'Empty'"}},
    "fill": {"field": "t", "type": "nominal", "scale": {"domain": ["P","F","E"], "range": ["#33CCCC","transparent","transparent"]}, "legend": {"orient": "none", "legendX": 59, "legendY": 73, "title": null, "labelOffset": 36, "rowPadding": 2.3, "labelExpr": "datum.label == 'P' ? 'Paired' : datum.label == 'F' ? 'FirstInTrain' : 'Empty'"}},
    "shape": {"field": "t", "type": "nominal", "scale": {"domain": ["P","F","E"], "range": ["circle","circle","square"]}, "legend": {"orient": "none", "legendX": 59, "legendY": 73, "title": null, "labelOffset": 36, "rowPadding": 2.3, "labelExpr": "datum.label == 'P' ? 'Paired' : datum.label == 'F' ? 'FirstInTrain' : 'Empty'"}}
   }},
  {"data": {"name": "a2"}, "transform": [{"filter": "datum.t == 'U1' || datum.t == 'U2'"}],
   "mark": {"type": "point", "filled": false, "size": 52, "strokeWidth": 1.5, "opacity": 1},
   "encoding": {
    "x": {"field": "b", "type": "quantitative", "scale": {"domain": [0, 350], "nice": false, "zero": false}, "axis": {"orient": "bottom", "values": [10,20,30,40,60,70,80,90,110,120,130,140,160,170,180,190,210,220,230,240,260,270,280,290,310,320,330,340], "tickSize": -5, "labels": false, "title": null}},
    "y": {"field": "r", "type": "quantitative", "scale": {"type": "log", "domain": [0.01, 1000000], "nice": false}, "axis": {"orient": "left", "values": [0.02,0.03,0.04,0.05,0.06,0.07,0.08,0.09,0.2,0.3,0.4,0.5,0.6,0.7,0.8,0.9,2,3,4,5,6,7,8,9,20,30,40,50,60,70,80,90,200,300,400,500,600,700,800,900,2000,3000,4000,5000,6000,7000,8000,9000,20000,30000,40000,50000,60000,70000,80000,90000,200000,300000,400000,500000,600000,700000,800000,900000], "tickSize": -5, "labels": false, "title": null}},
    "stroke": {"field": "t", "type": "nominal", "scale": {"domain": ["U1","U2"], "range": ["#00609A","#339900"]}, "legend": {"orient": "none", "legendX": 59, "legendY": 137, "title": null, "labelOffset": 36, "rowPadding": 3, "labelExpr": "datum.label == 'U1' ? 'Unpaired beam 1' : 'Unpaired beam 2'"}},
    "fill": {"field": "t", "type": "nominal", "scale": {"domain": ["U1","U2"], "range": ["#00609A","#339900"]}, "legend": {"orient": "none", "legendX": 59, "legendY": 137, "title": null, "labelOffset": 36, "rowPadding": 3, "labelExpr": "datum.label == 'U1' ? 'Unpaired beam 1' : 'Unpaired beam 2'"}},
    "shape": {"field": "t", "type": "nominal", "scale": {"domain": ["U1","U2"], "range": ["triangle-up","triangle-down"]}, "legend": {"orient": "none", "legendX": 59, "legendY": 137, "title": null, "labelOffset": 36, "rowPadding": 3, "labelExpr": "datum.label == 'U1' ? 'Unpaired beam 1' : 'Unpaired beam 2'"}}
   }},
  {"data": {"values": [{"txt": "ATLAS"}]},
   "mark": {"type": "text", "align": "left", "baseline": "alphabetic", "fontSize": 20, "fontWeight": "bold", "fontStyle": "italic"},
   "encoding": {
    "x": {"datum": 18.5, "type": "quantitative", "scale": {"domain": [0, 350], "nice": false, "zero": false}, "axis": {"orient": "top", "values": [0,50,100,150,200,250,300,350], "tickSize": -10, "labels": false, "title": null}},
    "y": {"datum": 166000, "type": "quantitative", "scale": {"type": "log", "domain": [0.01, 1000000], "nice": false}, "axis": {"orient": "right", "values": [0.01,0.1,1,10,100,1000,10000,100000,1000000], "tickSize": -10, "labels": false, "title": null}},
    "text": {"field": "txt"}}},
  {"data": {"values": [{"txt": "BCM 2A"}]},
   "mark": {"type": "text", "align": "right", "baseline": "alphabetic", "fontSize": 20},
   "encoding": {
    "x": {"datum": 317, "type": "quantitative", "scale": {"domain": [0, 350], "nice": false, "zero": false}, "axis": {"orient": "top", "values": [10,20,30,40,60,70,80,90,110,120,130,140,160,170,180,190,210,220,230,240,260,270,280,290,310,320,330,340], "tickSize": -5, "labels": false, "title": null}},
    "y": {"datum": 166000, "type": "quantitative", "scale": {"type": "log", "domain": [0.01, 1000000], "nice": false}, "axis": {"orient": "right", "values": [0.02,0.03,0.04,0.05,0.06,0.07,0.08,0.09,0.2,0.3,0.4,0.5,0.6,0.7,0.8,0.9,2,3,4,5,6,7,8,9,20,30,40,50,60,70,80,90,200,300,400,500,600,700,800,900,2000,3000,4000,5000,6000,7000,8000,9000,20000,30000,40000,50000,60000,70000,80000,90000,200000,300000,400000,500000,600000,700000,800000,900000], "tickSize": -5, "labels": false, "title": null}},
    "text": {"field": "txt"}}},
  {"data": {"values": [{"txt": "√s = 13.6 TeV, November 2022"}]},
   "mark": {"type": "text", "align": "left", "baseline": "alphabetic", "fontSize": 19.5},
   "encoding": {
    "x": {"datum": 19, "type": "quantitative", "scale": {"domain": [0, 350], "nice": false, "zero": false}, "axis": null},
    "y": {"datum": 32300, "type": "quantitative", "scale": {"type": "log", "domain": [0.01, 1000000], "nice": false}, "axis": null},
    "text": {"field": "txt"}}}
 ],
 "resolve": {"scale": {"stroke": "independent", "fill": "independent", "shape": "independent"}, "axis": {"x": "independent", "y": "independent"}}
},
{
 "width": 471, "height": 338,
 "layer": [
  {"data": {"name": "ca"}, "transform": [{"filter": "datum.t == 'P' || datum.t == 'F' || datum.t == 'E'"}],
   "mark": {"type": "point", "filled": false, "size": 52, "strokeWidth": 1.5, "opacity": 1},
   "encoding": {
    "x": {"field": "b", "type": "quantitative", "scale": {"domain": [0, 350], "nice": false, "zero": false}, "axis": {"orient": "bottom", "values": [0,50,100,150,200,250,300,350], "tickSize": -10, "labelPadding": 15, "title": "BCID", "titleAnchor": "end", "titlePadding": 16}},
    "y": {"field": "r", "type": "quantitative", "scale": {"type": "log", "domain": [0.01, 1000000], "nice": false}, "axis": {"orient": "left", "values": [0.01,0.1,1,10,100,1000,10000,100000,1000000], "tickSize": -10, "labelPadding": 16, "labelExpr": "datum.value < 0.05 ? '10⁻²' : datum.value < 0.5 ? '10⁻¹' : datum.value < 5 ? '1' : datum.value < 50 ? '10' : datum.value < 500 ? '10²' : datum.value < 5000 ? '10³' : datum.value < 50000 ? '10⁴' : datum.value < 500000 ? '10⁵' : '10⁶'", "title": "L1 rate [Hz/BCID]", "titleAnchor": "end", "titlePadding": 17}},
    "stroke": {"field": "t", "type": "nominal", "scale": {"domain": ["P","F","E"], "range": ["#33CCCC","#EE3366","#FF9900"]}, "legend": {"orient": "none", "legendX": 58, "legendY": 73, "title": null, "labelOffset": 36, "rowPadding": 1.5, "labelExpr": "datum.label == 'P' ? 'Paired' : datum.label == 'F' ? 'FirstInTrain' : 'Empty'"}},
    "fill": {"field": "t", "type": "nominal", "scale": {"domain": ["P","F","E"], "range": ["#33CCCC","transparent","transparent"]}, "legend": {"orient": "none", "legendX": 58, "legendY": 73, "title": null, "labelOffset": 36, "rowPadding": 1.5, "labelExpr": "datum.label == 'P' ? 'Paired' : datum.label == 'F' ? 'FirstInTrain' : 'Empty'"}},
    "shape": {"field": "t", "type": "nominal", "scale": {"domain": ["P","F","E"], "range": ["circle","circle","square"]}, "legend": {"orient": "none", "legendX": 58, "legendY": 73, "title": null, "labelOffset": 36, "rowPadding": 1.5, "labelExpr": "datum.label == 'P' ? 'Paired' : datum.label == 'F' ? 'FirstInTrain' : 'Empty'"}}
   }},
  {"data": {"name": "ca"}, "transform": [{"filter": "datum.t == 'U1' || datum.t == 'U2'"}],
   "mark": {"type": "point", "filled": false, "size": 52, "strokeWidth": 1.5, "opacity": 1},
   "encoding": {
    "x": {"field": "b", "type": "quantitative", "scale": {"domain": [0, 350], "nice": false, "zero": false}, "axis": {"orient": "bottom", "values": [10,20,30,40,60,70,80,90,110,120,130,140,160,170,180,190,210,220,230,240,260,270,280,290,310,320,330,340], "tickSize": -5, "labels": false, "title": null}},
    "y": {"field": "r", "type": "quantitative", "scale": {"type": "log", "domain": [0.01, 1000000], "nice": false}, "axis": {"orient": "left", "values": [0.02,0.03,0.04,0.05,0.06,0.07,0.08,0.09,0.2,0.3,0.4,0.5,0.6,0.7,0.8,0.9,2,3,4,5,6,7,8,9,20,30,40,50,60,70,80,90,200,300,400,500,600,700,800,900,2000,3000,4000,5000,6000,7000,8000,9000,20000,30000,40000,50000,60000,70000,80000,90000,200000,300000,400000,500000,600000,700000,800000,900000], "tickSize": -5, "labels": false, "title": null}},
    "stroke": {"field": "t", "type": "nominal", "scale": {"domain": ["U1","U2"], "range": ["#00609A","#339900"]}, "legend": {"orient": "none", "legendX": 246, "legendY": 80, "title": null, "labelOffset": 20, "rowPadding": 14.5, "labelExpr": "datum.label == 'U1' ? 'Unpaired beam 1' : 'Unpaired beam 2'"}},
    "fill": {"field": "t", "type": "nominal", "scale": {"domain": ["U1","U2"], "range": ["#00609A","#339900"]}, "legend": {"orient": "none", "legendX": 246, "legendY": 80, "title": null, "labelOffset": 20, "rowPadding": 14.5, "labelExpr": "datum.label == 'U1' ? 'Unpaired beam 1' : 'Unpaired beam 2'"}},
    "shape": {"field": "t", "type": "nominal", "scale": {"domain": ["U1","U2"], "range": ["triangle-up","triangle-down"]}, "legend": {"orient": "none", "legendX": 246, "legendY": 80, "title": null, "labelOffset": 20, "rowPadding": 14.5, "labelExpr": "datum.label == 'U1' ? 'Unpaired beam 1' : 'Unpaired beam 2'"}}
   }},
  {"data": {"values": [{"txt": "ATLAS"}]},
   "mark": {"type": "text", "align": "left", "baseline": "alphabetic", "fontSize": 20, "fontWeight": "bold", "fontStyle": "italic"},
   "encoding": {
    "x": {"datum": 18.5, "type": "quantitative", "scale": {"domain": [0, 350], "nice": false, "zero": false}, "axis": {"orient": "top", "values": [0,50,100,150,200,250,300,350], "tickSize": -10, "labels": false, "title": null}},
    "y": {"datum": 166000, "type": "quantitative", "scale": {"type": "log", "domain": [0.01, 1000000], "nice": false}, "axis": {"orient": "right", "values": [0.01,0.1,1,10,100,1000,10000,100000,1000000], "tickSize": -10, "labels": false, "title": null}},
    "text": {"field": "txt"}}},
  {"data": {"values": [{"txt": "BCM CA"}]},
   "mark": {"type": "text", "align": "right", "baseline": "alphabetic", "fontSize": 20},
   "encoding": {
    "x": {"datum": 318, "type": "quantitative", "scale": {"domain": [0, 350], "nice": false, "zero": false}, "axis": {"orient": "top", "values": [10,20,30,40,60,70,80,90,110,120,130,140,160,170,180,190,210,220,230,240,260,270,280,290,310,320,330,340], "tickSize": -5, "labels": false, "title": null}},
    "y": {"datum": 166000, "type": "quantitative", "scale": {"type": "log", "domain": [0.01, 1000000], "nice": false}, "axis": {"orient": "right", "values": [0.02,0.03,0.04,0.05,0.06,0.07,0.08,0.09,0.2,0.3,0.4,0.5,0.6,0.7,0.8,0.9,2,3,4,5,6,7,8,9,20,30,40,50,60,70,80,90,200,300,400,500,600,700,800,900,2000,3000,4000,5000,6000,7000,8000,9000,20000,30000,40000,50000,60000,70000,80000,90000,200000,300000,400000,500000,600000,700000,800000,900000], "tickSize": -5, "labels": false, "title": null}},
    "text": {"field": "txt"}}},
  {"data": {"values": [{"txt": "√s = 13.6 TeV, November 2022"}]},
   "mark": {"type": "text", "align": "left", "baseline": "alphabetic", "fontSize": 19.5},
   "encoding": {
    "x": {"datum": 19, "type": "quantitative", "scale": {"domain": [0, 350], "nice": false, "zero": false}, "axis": null},
    "y": {"datum": 32300, "type": "quantitative", "scale": {"type": "log", "domain": [0.01, 1000000], "nice": false}, "axis": null},
    "text": {"field": "txt"}}}
 ],
 "resolve": {"scale": {"stroke": "independent", "fill": "independent", "shape": "independent"}, "axis": {"x": "independent", "y": "independent"}}
},
{
 "width": 471, "height": 338,
 "layer": [
  {"data": {"name": "c2"}, "transform": [{"filter": "datum.t == 'P' || datum.t == 'F' || datum.t == 'E'"}],
   "mark": {"type": "point", "filled": false, "size": 52, "strokeWidth": 1.5, "opacity": 1},
   "encoding": {
    "x": {"field": "b", "type": "quantitative", "scale": {"domain": [0, 350], "nice": false, "zero": false}, "axis": {"orient": "bottom", "values": [0,50,100,150,200,250,300,350], "tickSize": -10, "labelPadding": 15, "title": "BCID", "titleAnchor": "end", "titlePadding": 16}},
    "y": {"field": "r", "type": "quantitative", "scale": {"type": "log", "domain": [0.01, 1000000], "nice": false}, "axis": {"orient": "left", "values": [0.01,0.1,1,10,100,1000,10000,100000,1000000], "tickSize": -10, "labelPadding": 16, "labelExpr": "datum.value < 0.05 ? '10⁻²' : datum.value < 0.5 ? '10⁻¹' : datum.value < 5 ? '1' : datum.value < 50 ? '10' : datum.value < 500 ? '10²' : datum.value < 5000 ? '10³' : datum.value < 50000 ? '10⁴' : datum.value < 500000 ? '10⁵' : '10⁶'", "title": "L1 rate [Hz/BCID]", "titleAnchor": "end", "titlePadding": 17}},
    "stroke": {"field": "t", "type": "nominal", "scale": {"domain": ["P","F","E"], "range": ["#33CCCC","#EE3366","#FF9900"]}, "legend": {"orient": "none", "legendX": 59, "legendY": 73, "title": null, "labelOffset": 36, "rowPadding": 2.3, "labelExpr": "datum.label == 'P' ? 'Paired' : datum.label == 'F' ? 'FirstInTrain' : 'Empty'"}},
    "fill": {"field": "t", "type": "nominal", "scale": {"domain": ["P","F","E"], "range": ["#33CCCC","transparent","transparent"]}, "legend": {"orient": "none", "legendX": 59, "legendY": 73, "title": null, "labelOffset": 36, "rowPadding": 2.3, "labelExpr": "datum.label == 'P' ? 'Paired' : datum.label == 'F' ? 'FirstInTrain' : 'Empty'"}},
    "shape": {"field": "t", "type": "nominal", "scale": {"domain": ["P","F","E"], "range": ["circle","circle","square"]}, "legend": {"orient": "none", "legendX": 59, "legendY": 73, "title": null, "labelOffset": 36, "rowPadding": 2.3, "labelExpr": "datum.label == 'P' ? 'Paired' : datum.label == 'F' ? 'FirstInTrain' : 'Empty'"}}
   }},
  {"data": {"name": "c2"}, "transform": [{"filter": "datum.t == 'U1' || datum.t == 'U2'"}],
   "mark": {"type": "point", "filled": false, "size": 52, "strokeWidth": 1.5, "opacity": 1},
   "encoding": {
    "x": {"field": "b", "type": "quantitative", "scale": {"domain": [0, 350], "nice": false, "zero": false}, "axis": {"orient": "bottom", "values": [10,20,30,40,60,70,80,90,110,120,130,140,160,170,180,190,210,220,230,240,260,270,280,290,310,320,330,340], "tickSize": -5, "labels": false, "title": null}},
    "y": {"field": "r", "type": "quantitative", "scale": {"type": "log", "domain": [0.01, 1000000], "nice": false}, "axis": {"orient": "left", "values": [0.02,0.03,0.04,0.05,0.06,0.07,0.08,0.09,0.2,0.3,0.4,0.5,0.6,0.7,0.8,0.9,2,3,4,5,6,7,8,9,20,30,40,50,60,70,80,90,200,300,400,500,600,700,800,900,2000,3000,4000,5000,6000,7000,8000,9000,20000,30000,40000,50000,60000,70000,80000,90000,200000,300000,400000,500000,600000,700000,800000,900000], "tickSize": -5, "labels": false, "title": null}},
    "stroke": {"field": "t", "type": "nominal", "scale": {"domain": ["U1","U2"], "range": ["#00609A","#339900"]}, "legend": {"orient": "none", "legendX": 59, "legendY": 137, "title": null, "labelOffset": 36, "rowPadding": 3, "labelExpr": "datum.label == 'U1' ? 'Unpaired beam 1' : 'Unpaired beam 2'"}},
    "fill": {"field": "t", "type": "nominal", "scale": {"domain": ["U1","U2"], "range": ["#00609A","#339900"]}, "legend": {"orient": "none", "legendX": 59, "legendY": 137, "title": null, "labelOffset": 36, "rowPadding": 3, "labelExpr": "datum.label == 'U1' ? 'Unpaired beam 1' : 'Unpaired beam 2'"}},
    "shape": {"field": "t", "type": "nominal", "scale": {"domain": ["U1","U2"], "range": ["triangle-up","triangle-down"]}, "legend": {"orient": "none", "legendX": 59, "legendY": 137, "title": null, "labelOffset": 36, "rowPadding": 3, "labelExpr": "datum.label == 'U1' ? 'Unpaired beam 1' : 'Unpaired beam 2'"}}
   }},
  {"data": {"values": [{"txt": "ATLAS"}]},
   "mark": {"type": "text", "align": "left", "baseline": "alphabetic", "fontSize": 20, "fontWeight": "bold", "fontStyle": "italic"},
   "encoding": {
    "x": {"datum": 18.5, "type": "quantitative", "scale": {"domain": [0, 350], "nice": false, "zero": false}, "axis": {"orient": "top", "values": [0,50,100,150,200,250,300,350], "tickSize": -10, "labels": false, "title": null}},
    "y": {"datum": 166000, "type": "quantitative", "scale": {"type": "log", "domain": [0.01, 1000000], "nice": false}, "axis": {"orient": "right", "values": [0.01,0.1,1,10,100,1000,10000,100000,1000000], "tickSize": -10, "labels": false, "title": null}},
    "text": {"field": "txt"}}},
  {"data": {"values": [{"txt": "BCM 2C"}]},
   "mark": {"type": "text", "align": "right", "baseline": "alphabetic", "fontSize": 20},
   "encoding": {
    "x": {"datum": 317.5, "type": "quantitative", "scale": {"domain": [0, 350], "nice": false, "zero": false}, "axis": {"orient": "top", "values": [10,20,30,40,60,70,80,90,110,120,130,140,160,170,180,190,210,220,230,240,260,270,280,290,310,320,330,340], "tickSize": -5, "labels": false, "title": null}},
    "y": {"datum": 166000, "type": "quantitative", "scale": {"type": "log", "domain": [0.01, 1000000], "nice": false}, "axis": {"orient": "right", "values": [0.02,0.03,0.04,0.05,0.06,0.07,0.08,0.09,0.2,0.3,0.4,0.5,0.6,0.7,0.8,0.9,2,3,4,5,6,7,8,9,20,30,40,50,60,70,80,90,200,300,400,500,600,700,800,900,2000,3000,4000,5000,6000,7000,8000,9000,20000,30000,40000,50000,60000,70000,80000,90000,200000,300000,400000,500000,600000,700000,800000,900000], "tickSize": -5, "labels": false, "title": null}},
    "text": {"field": "txt"}}},
  {"data": {"values": [{"txt": "√s = 13.6 TeV, November 2022"}]},
   "mark": {"type": "text", "align": "left", "baseline": "alphabetic", "fontSize": 19.5},
   "encoding": {
    "x": {"datum": 19, "type": "quantitative", "scale": {"domain": [0, 350], "nice": false, "zero": false}, "axis": null},
    "y": {"datum": 32300, "type": "quantitative", "scale": {"type": "log", "domain": [0.01, 1000000], "nice": false}, "axis": null},
    "text": {"field": "txt"}}}
 ],
 "resolve": {"scale": {"stroke": "independent", "fill": "independent", "shape": "independent"}, "axis": {"x": "independent", "y": "independent"}}
}
]
}
